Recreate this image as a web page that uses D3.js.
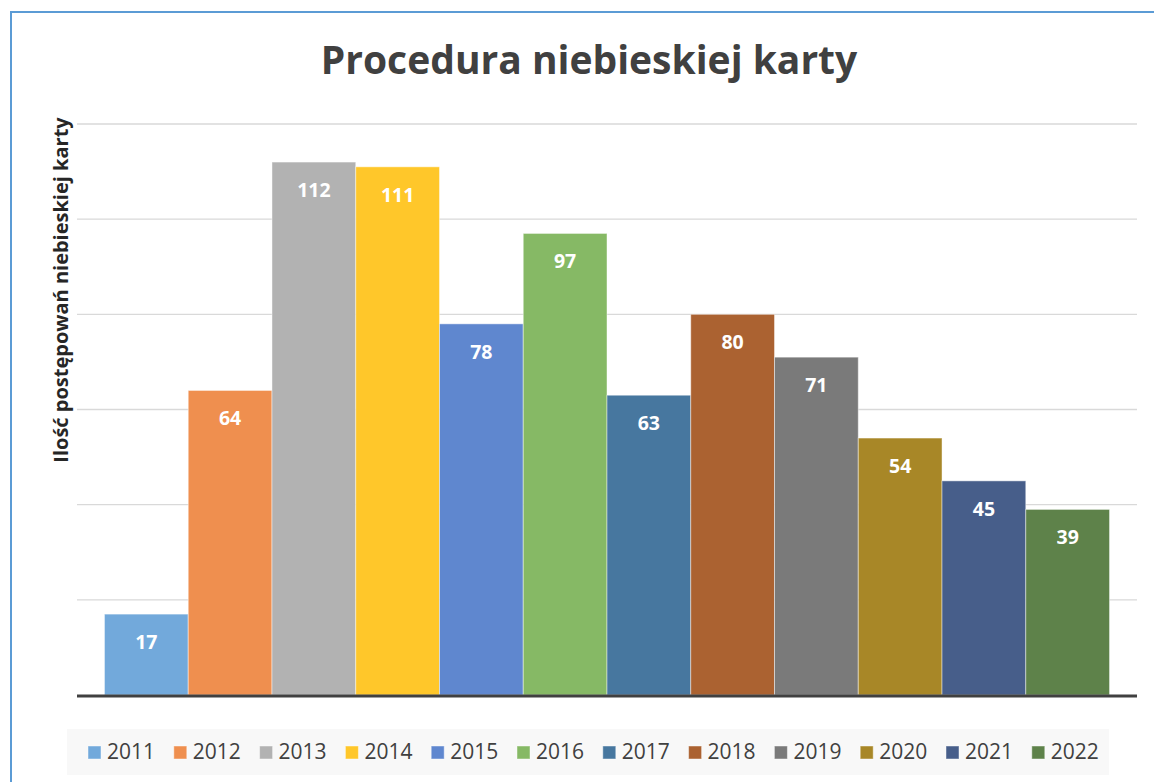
<!DOCTYPE html>
<html>
<head>
<meta charset="utf-8">
<script src="https://cdn.jsdelivr.net/npm/d3@7/dist/d3.min.js"></script>
<style>
  body { margin: 0; background: #fff; }
  svg { display: block; }
  text { font-family: "Open Sans", Lato, sans-serif; }
</style>
</head>
<body>
<div id="chart"></div>
<script>
// data
var years = ["2011", "2012", "2013", "2014", "2015", "2016", "2017", "2018", "2019", "2020", "2021", "2022"];
var counts = [17, 64, 112, 111, 78, 97, 63, 80, 71, 54, 45, 39];
var colors = ["#72a9db", "#ef8f4f", "#b2b2b2", "#ffc72a", "#5f87cf", "#86b965",
              "#47779f", "#ab6231", "#7a7a7a", "#a88727", "#475e8a", "#5e824a"];
var gridTicks = [0, 20, 40, 60, 80, 100, 120];

var title = "Procedura niebieskiej karty";
var yTitle = "Ilość postępowań niebieskiej karty";

var width = 1154, height = 782;
var plot = { left: 77, right: 1137, top: 124, bottom: 695 };

var svg = d3.select("#chart").append("svg")
    .attr("width", width)
    .attr("height", height);

// chart area border (only top and left are in view)
svg.append("rect")
    .attr("x", 11).attr("y", 12)
    .attr("width", 1200).attr("height", 900)
    .attr("fill", "none")
    .attr("stroke", "#5b9bd5")
    .attr("stroke-width", 2);

var x = d3.scaleBand()
    .domain(years)
    .range([plot.left, plot.right])
    .paddingInner(0)
    .paddingOuter(0.328);

var y = d3.scaleLinear()
    .domain([0, 120])
    .range([plot.bottom, plot.top]);

// gridlines
svg.append("g")
    .selectAll("line")
    .data(gridTicks.slice(1))
    .enter().append("line")
    .attr("x1", plot.left).attr("x2", plot.right)
    .attr("y1", function (d) { return y(d); })
    .attr("y2", function (d) { return y(d); })
    .attr("stroke", "#d9d9d9")
    .attr("stroke-width", 1.3);

// bars
var bars = svg.append("g")
    .selectAll("g")
    .data(years)
    .enter().append("g");

bars.append("rect")
    .attr("x", function (d) { return x(d); })
    .attr("y", function (d, i) { return y(counts[i]); })
    .attr("width", x.bandwidth())
    .attr("height", function (d, i) { return y(0) - y(counts[i]); })
    .attr("fill", function (d, i) { return colors[i]; })
    .attr("stroke", "rgba(255,255,255,0.45)")
    .attr("stroke-width", 1);

bars.append("text")
    .attr("x", function (d) { return x(d) + x.bandwidth() / 2; })
    .attr("y", function (d, i) { return y(counts[i]) + 35; })
    .attr("text-anchor", "middle")
    .attr("fill", "#fff")
    .attr("font-size", 19.5)
    .attr("font-weight", "bold")
    .text(function (d, i) { return counts[i]; });

// baseline
svg.append("line")
    .attr("x1", plot.left).attr("x2", plot.right)
    .attr("y1", y(0) + 1).attr("y2", y(0) + 1)
    .attr("stroke", "#404040")
    .attr("stroke-width", 3);

// title
svg.append("text")
    .attr("x", 589)
    .attr("y", 74)
    .attr("text-anchor", "middle")
    .attr("fill", "#404040")
    .attr("font-size", 39)
    .attr("font-weight", "bold")
    .text(title);

// y axis title
svg.append("text")
    .attr("transform", "translate(68,290) rotate(-90)")
    .attr("text-anchor", "middle")
    .attr("fill", "#262626")
    .attr("font-size", 20)
    .attr("font-weight", "bold")
    .text(yTitle);

// legend
svg.append("rect")
    .attr("x", 67).attr("y", 729)
    .attr("width", 1042).attr("height", 46)
    .attr("fill", "#f8f8f8");

var lx = d3.scaleBand()
    .domain(years)
    .range([88, 88 + 85.8 * years.length]);

var items = svg.append("g")
    .selectAll("g")
    .data(years)
    .enter().append("g")
    .attr("transform", function (d) { return "translate(" + lx(d) + ",746)"; });

items.append("rect")
    .attr("width", 13).attr("height", 13)
    .attr("fill", function (d, i) { return colors[i]; })
    .attr("stroke", "rgba(255,255,255,0.45)");

items.append("text")
    .attr("x", 19)
    .attr("y", 13)
    .attr("fill", "#404040")
    .attr("font-size", 21)
    .text(function (d) { return d; });
</script>
</body>
</html>
